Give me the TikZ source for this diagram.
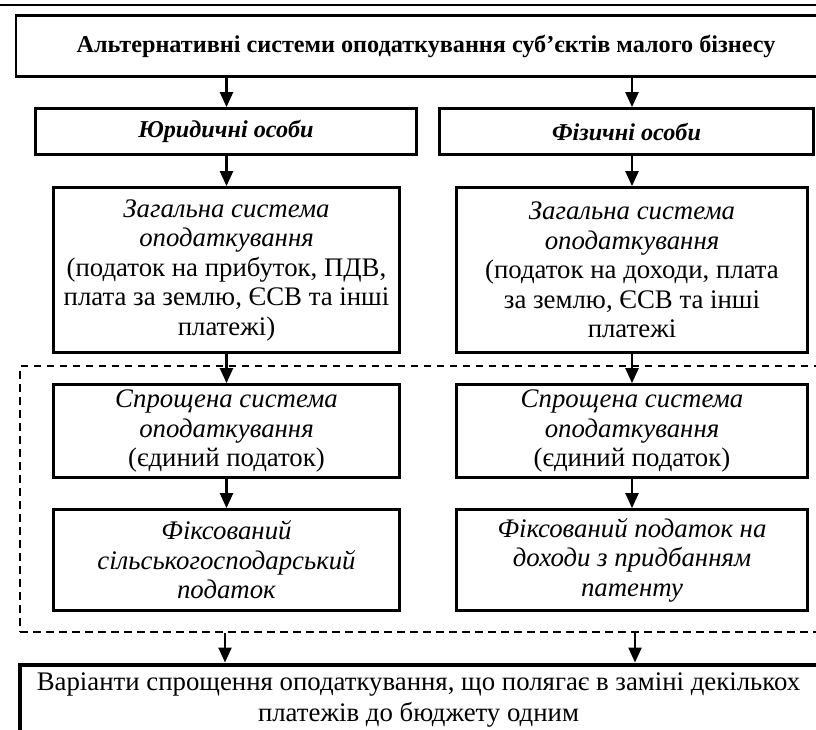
\documentclass[tikz,border=0pt]{standalone}
\usepackage{fontspec}
\setmainfont{Liberation Serif}
\usetikzlibrary{arrows.meta}
\begin{document}
\begin{tikzpicture}[x=1pt,y=-1pt,
  box/.style={draw, line width=2.8pt, align=center, inner sep=0pt, font=\fontsize{26.8}{29.5}\selectfont},
  headbox/.style={box, font=\fontsize{24.2}{29}\selectfont},
  bigbox/.style={box, line width=4pt},
  arr/.style={line width=2.4pt, -{Triangle[length=15pt,width=13pt]}},
  frame/.style={draw, line width=2.4pt, dash pattern=on 7.5pt off 5.5pt, inner sep=0pt},
]
\useasboundingbox (0,0) rectangle (816,729);
\clip (0,0) rectangle (816,729);
\fill[white] (0,0) rectangle (816,729);
\draw[line width=1.3pt] (0,5) -- (816,5);

\node[bigbox, headbox, minimum width=820pt, minimum height=61pt] (top) at (426,46)
  {\textbf{Альтернативні системи оподаткування суб’єктів малого бізнесу}};

\node[headbox, minimum width=381pt, minimum height=46pt] (jur) at (226,131.5)
  {\textbf{\textit{Юридичні особи}}};
\node[headbox, minimum width=374pt, minimum height=46pt] (fiz) at (626.5,131.5)
  {\textbf{\textit{Фізичні особи}}};

\node[box, minimum width=346pt, minimum height=165pt] (zagL) at (226.5,270)
  {\textit{Загальна система}\\ \textit{оподаткування}\\ (податок на прибуток, ПДВ,\\ плата за землю, ЄСВ та інші\\ платежі)};
\node[box, minimum width=351pt, minimum height=165pt] (zagR) at (632,270)
  {\textit{Загальна система}\\ \textit{оподаткування}\\ (податок на доходи, плата\\ за землю, ЄСВ та інші\\ платежі};

\node[frame, minimum width=820pt, minimum height=266pt] (fr) at (430,499) {};

\node[box, minimum width=346pt, minimum height=93pt] (sprL) at (226.5,431)
  {\textit{Спрощена система}\\ \textit{оподаткування}\\ (єдиний податок)};
\node[box, minimum width=351pt, minimum height=93pt] (sprR) at (632,431)
  {\textit{Спрощена система}\\ \textit{оподаткування}\\ (єдиний податок)};

\node[box, minimum width=346pt, minimum height=101pt] (fixL) at (226.5,560)
  {\textit{Фіксований}\\ \textit{сільськогосподарський}\\ \textit{податок}};
\node[box, minimum width=351pt, minimum height=101pt] (fixR) at (632,560)
  {\textit{Фіксований податок на}\\ \textit{доходи з придбанням}\\ \textit{патенту}};

\node[bigbox, font=\fontsize{26.8}{31}\selectfont, minimum width=798pt, minimum height=71pt] (res) at (418.5,700)
  {Варіанти спрощення оподаткування, що полягає в заміні декількох\\ платежів до бюджету одним};

\draw[arr] (top.south -| zagL.north) -- (jur.north -| zagL.north);
\draw[arr] (top.south -| zagR.north) -- (fiz.north -| zagR.north);
\draw[arr] (jur.south -| zagL.north) -- (zagL.north);
\draw[arr] (fiz.south -| zagR.north) -- (zagR.north);
\draw[arr] (zagL.south) -- (sprL.north);
\draw[arr] (zagR.south) -- (sprR.north);
\draw[arr] (sprL.south) -- (fixL.north);
\draw[arr] (sprR.south) -- (fixR.north);
\draw[arr] ([xshift=-1.5pt]fr.south -| zagL.south) -- ([xshift=-1.5pt]res.north -| zagL.south);
\draw[arr] ([xshift=3pt]fr.south -| zagR.south) -- ([xshift=3pt]res.north -| zagR.south);
\end{tikzpicture}
\end{document}
